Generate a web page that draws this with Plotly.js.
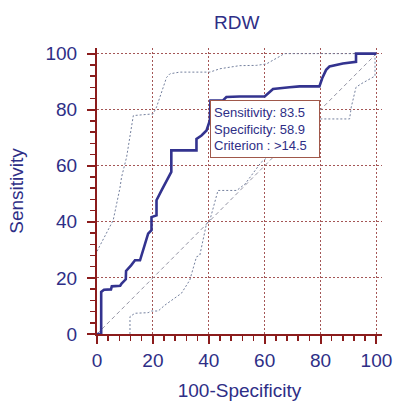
<!DOCTYPE html>
<html>
<head>
<meta charset="utf-8">
<script src="https://cdn.plot.ly/plotly-3.0.1.min.js"></script>
<style>html,body{margin:0;padding:0;background:#fff;}#chart{width:394px;height:403px;}</style>
</head>
<body>
<div id="chart"></div>
<script>
// ROC curve (100-Specificity, Sensitivity)
var rocX = [0, 1.5, 1.5, 2.5, 5, 5.3, 8.3, 8.8, 10.3, 10.4, 12.2, 13.6, 15.4, 16.5, 17.7, 18.3, 19.5, 19.5, 21.3, 21.3, 23.1, 26.6, 26.6, 35.6, 35.6, 37.4, 39.2, 40.4, 40.6, 45.1, 46.3, 51, 60, 61.8, 63, 68.9, 72.5, 79.6, 80.6, 82, 83.2, 88, 91.6, 92.7, 92.7, 100];
var rocY = [0, 0, 15, 15.8, 15.9, 17, 17.2, 18, 19.5, 22.5, 24.5, 26.3, 26.3, 29.9, 34.6, 35.8, 37, 41.7, 42.3, 47.7, 51.2, 57.8, 65.5, 65.5, 69.6, 70.8, 72.6, 76.2, 83.3, 83.3, 84.5, 84.7, 84.7, 86.2, 87.4, 88, 88.3, 88.3, 91.2, 94.2, 95.4, 96.5, 97.1, 97.1, 100, 100];

// Upper confidence bound
var upperX = [0, 3, 5.8, 8.2, 8.8, 10.6, 13, 20.1, 21.3, 24.9, 26.1, 29.6, 40.4, 44, 51, 57, 60.6, 65.4, 67, 100];
var upperY = [29.5, 35, 40.6, 52, 56, 63.1, 77.9, 78.5, 80.9, 91.5, 92.8, 93.4, 93.4, 94.6, 95.7, 95.8, 96.3, 99, 100, 100];

// Lower confidence bound
var lowerX = [11.8, 11.8, 13.6, 18.3, 19.5, 21.9, 24.3, 26.1, 30.2, 33.2, 35.6, 36.8, 38.6, 39.2, 40.4, 43.3, 50, 53, 58.8, 61.2, 65, 72, 90.4, 91, 92.7, 94.5, 98.7, 99.5, 99.5, 100];
var lowerY = [0, 6.2, 7.4, 7.6, 8.2, 8.2, 10.3, 11.5, 14.5, 19.2, 27.5, 28.1, 35.8, 39.4, 40.6, 51.2, 51.2, 53.5, 61.3, 63.1, 66, 76.7, 76.7, 80.9, 88, 89.2, 91.5, 92, 100, 100];

// Reference diagonal
var diagX = [0, 100];
var diagY = [0, 100];

var tickValues = [0, 20, 40, 60, 80, 100];
var tickLabels = ["0", "20", "40", "60", "80", "100"];

var chartTitle = "RDW";
var xTitle = "100-Specificity";
var yTitle = "Sensitivity";
var criterionX = 40.4;
var criterionY = 83.3;
var criterionLines = ["Sensitivity: 83.5", "Specificity: 58.9", "Criterion : >14.5"];

var navy = "#2e2e86";
var axisRed = "#8b1c1c";
var gridRed = "#a45656";
var bandColor = "#74809e";
var FONT = "Liberation Sans, Arial, Helvetica, sans-serif";

var traces = [
  {x: diagX, y: diagY, mode: "lines", line: {color: "#9494a4", width: 1, dash: "4px,3px"}, hoverinfo: "skip"},
  {x: upperX, y: upperY, mode: "lines", line: {color: bandColor, width: 1, dash: "2px,2px"}, hoverinfo: "skip"},
  {x: lowerX, y: lowerY, mode: "lines", line: {color: bandColor, width: 1, dash: "2px,2px"}, hoverinfo: "skip"},
  {x: rocX, y: rocY, mode: "lines", line: {color: "#33338f", width: 2.6}, hoverinfo: "skip"}
];

function axisBase() {
  return {
    range: [0, 102],
    tickmode: "array",
    tickvals: tickValues,
    ticktext: tickLabels,
    showline: true,
    linecolor: axisRed,
    linewidth: 2,
    ticks: "outside",
    ticklen: 8,
    tickwidth: 2,
    tickcolor: axisRed,
    minor: {tickmode: "linear", tick0: 0, dtick: 4, ticks: "outside", ticklen: 5, tickwidth: 1.5, tickcolor: axisRed, showgrid: false},
    showgrid: true,
    gridcolor: gridRed,
    griddash: "1.5px,2.5px",
    gridwidth: 1,
    zeroline: false,
    tickfont: {family: FONT, size: 19, color: navy},
    fixedrange: true
  };
}

var xaxis = axisBase();
xaxis.title = {text: xTitle, font: {family: FONT, size: 19, color: navy}, standoff: 14};
var yaxis = axisBase();
yaxis.title = {text: yTitle, font: {family: FONT, size: 19, color: navy}, standoff: 17};
yaxis.ticklabelstandoff = 6;

var layout = {
  width: 394,
  height: 403,
  margin: {l: 97, r: 12, t: 48, b: 69, pad: 0},
  paper_bgcolor: "#ffffff",
  plot_bgcolor: "#ffffff",
  showlegend: false,
  title: {text: chartTitle, font: {family: FONT, size: 19, color: navy}, xref: "container", x: 0.601, xanchor: "center", yref: "container", y: 0.944, yanchor: "middle"},
  xaxis: xaxis,
  yaxis: yaxis,
  annotations: [{
    x: criterionX, y: criterionY, xref: "x", yref: "y",
    xanchor: "left", yanchor: "top",
    showarrow: false,
    text: criterionLines.join("<br>"),
    align: "left",
    valign: "middle",
    width: 102,
    height: 50,
    borderpad: 3,
    bordercolor: "#a0584a",
    borderwidth: 1,
    bgcolor: "#ffffff",
    font: {family: FONT, size: 13, color: navy}
  }]
};

Plotly.newPlot("chart", traces, layout, {displayModeBar: false, staticPlot: true});
</script>
</body>
</html>
